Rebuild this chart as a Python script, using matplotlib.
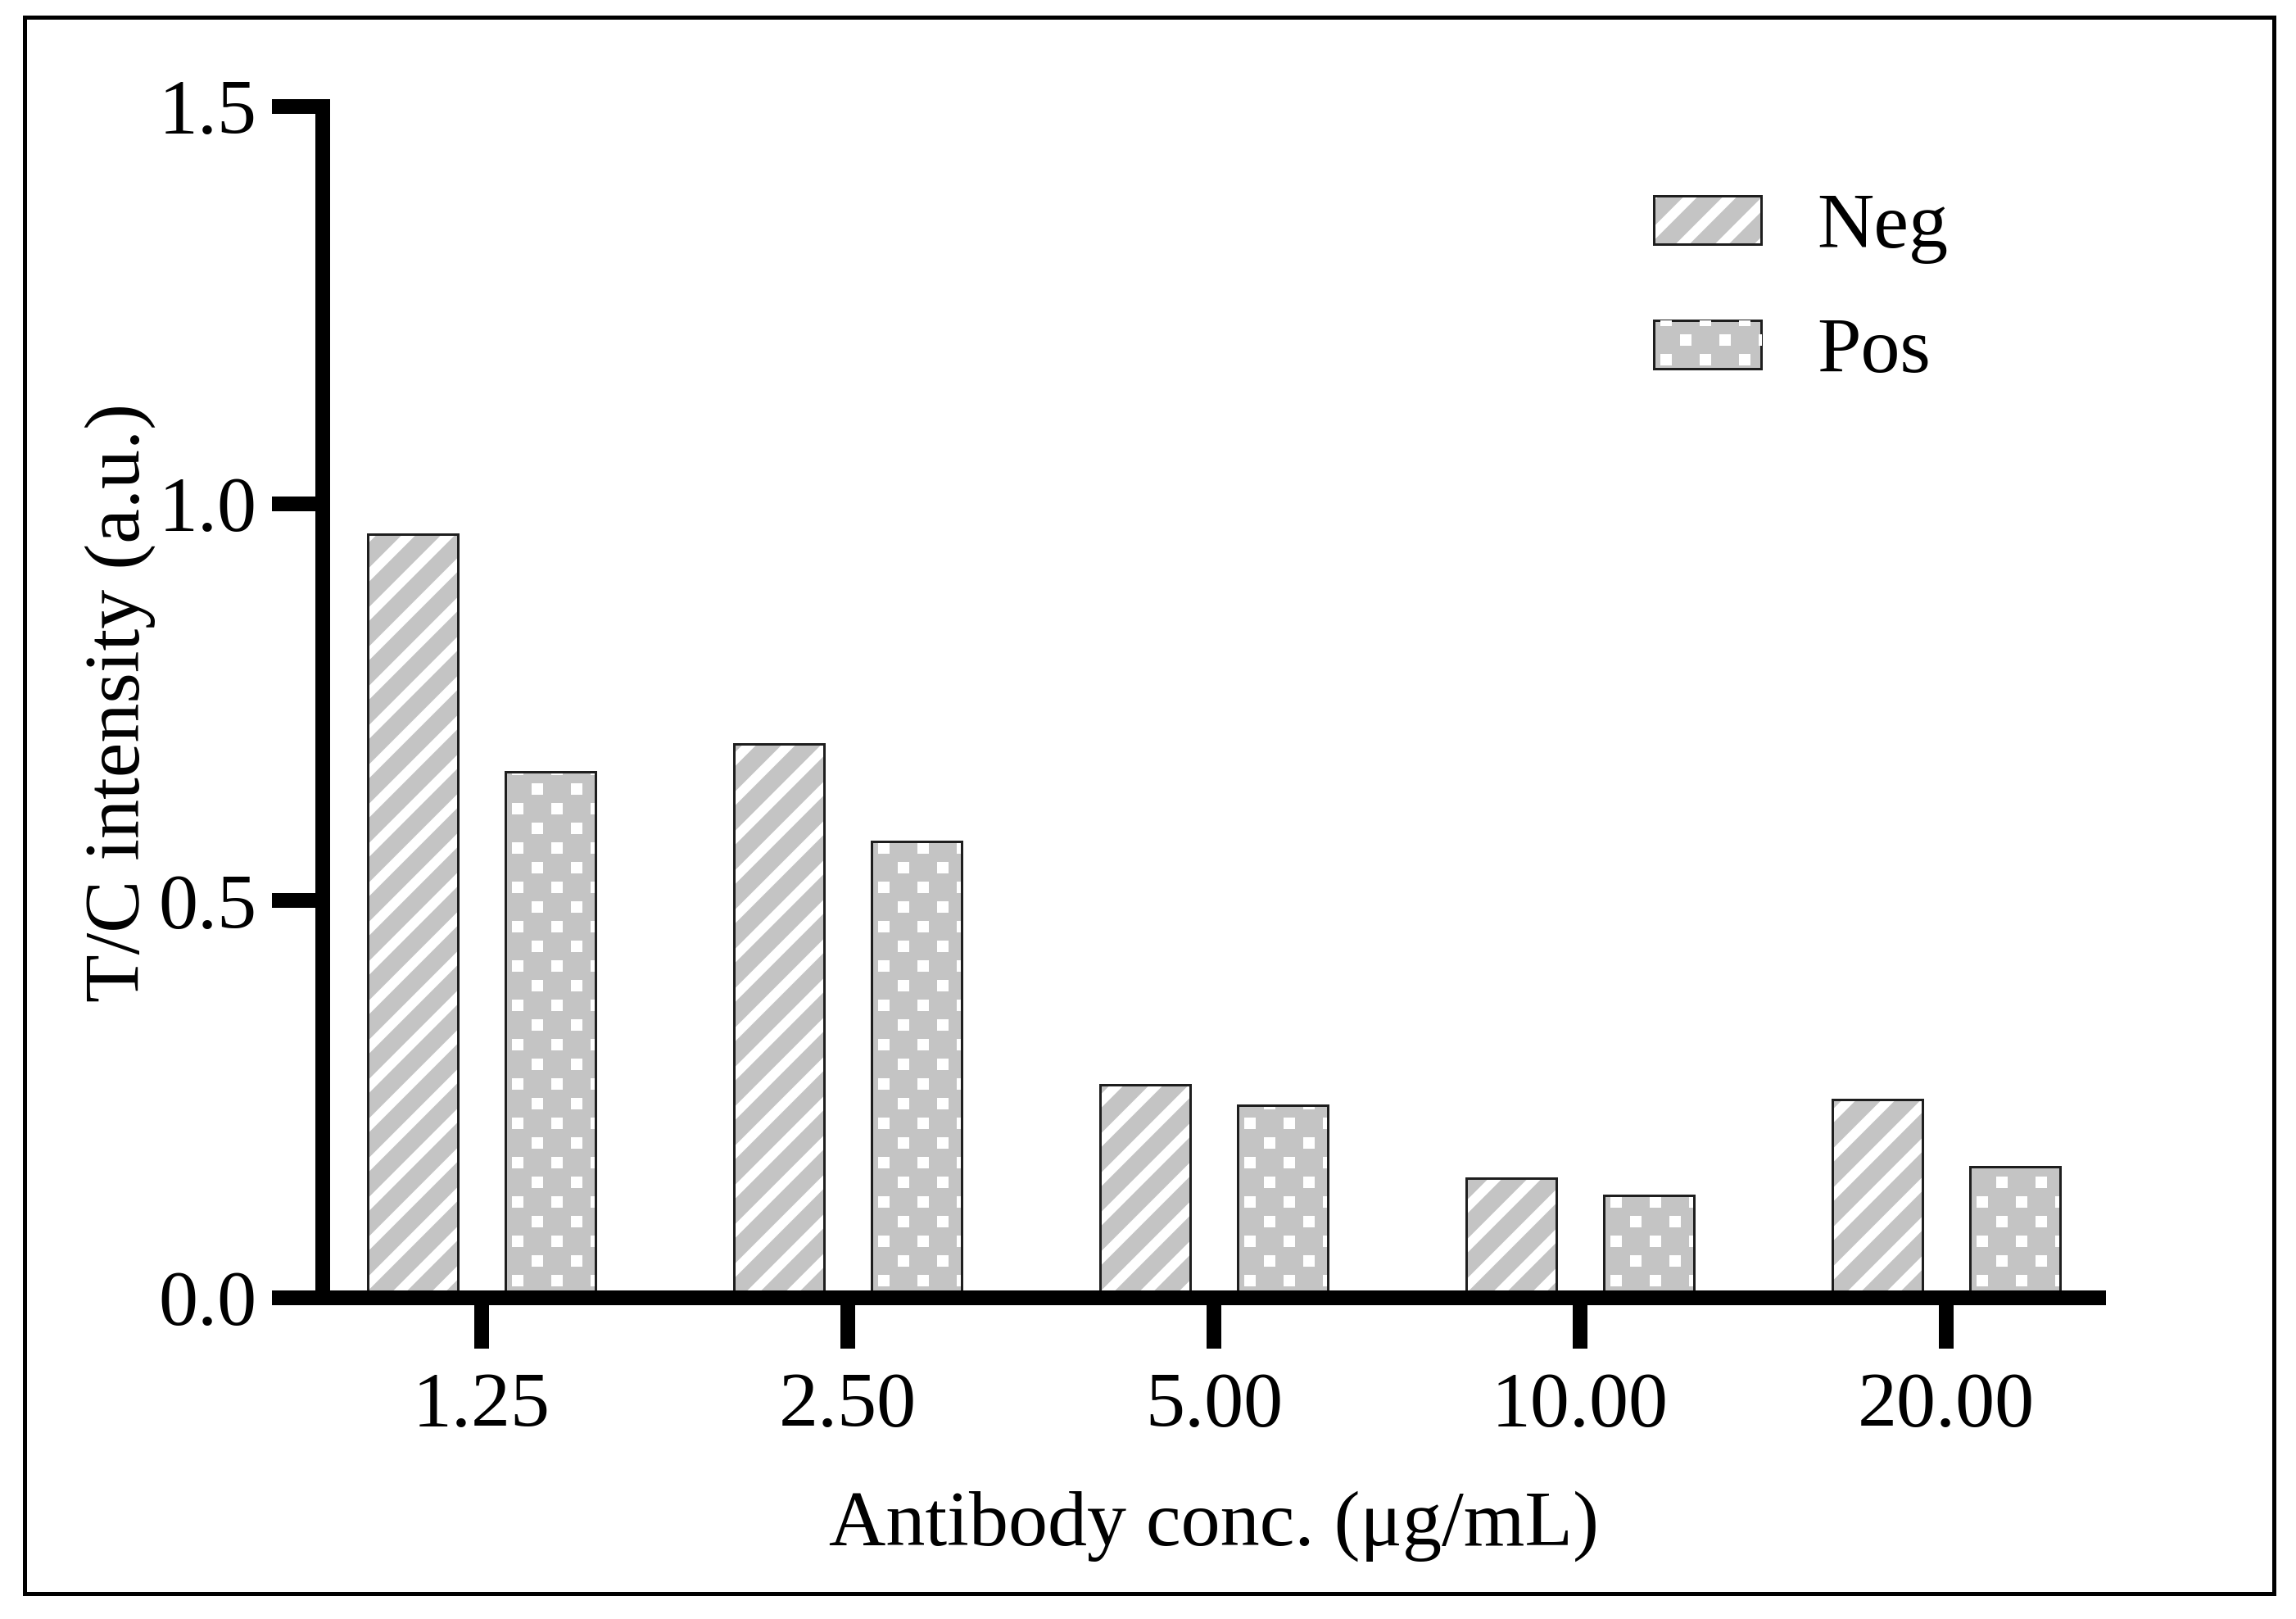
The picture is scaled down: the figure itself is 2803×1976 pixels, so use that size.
import numpy as np
import matplotlib
matplotlib.use('Agg')
import matplotlib.pyplot as plt
from matplotlib.patches import Rectangle, Patch
from matplotlib.legend_handler import HandlerTuple

# ---------------- data ----------------
categories = ['1.25', '2.50', '5.00', '10.00', '20.00']
neg_values = [0.962, 0.697, 0.268, 0.151, 0.250]
pos_values = [0.662, 0.575, 0.242, 0.129, 0.165]
series_names = ['Neg', 'Pos']
y_ticks = [0.0, 0.5, 1.0, 1.5]
y_tick_labels = ['0.0', '0.5', '1.0', '1.5']
x_label = 'Antibody conc. (μg/mL)'
y_label = 'T/C intensity (a.u.)'

# ---------------- style ----------------
W, H, DPI = 2803, 1976, 288
plt.rcParams['font.family'] = ['Liberation Serif', 'DejaVu Serif']
plt.rcParams['hatch.linewidth'] = 3.0
plt.rcParams['hatch.color'] = 'white'
GRAY = '#c4c4c4'
EDGE = '#1e1e1e'
FS = 24
SPINE_W = 4.5

fig = plt.figure(figsize=(W / DPI, H / DPI), dpi=DPI)
fig.patch.set_facecolor('white')
ax = fig.add_axes([332 / W, (H - 1584) / H, (2571 - 332) / W, (1584 - 130) / H])

x = np.arange(len(categories))
bw = 0.248
off = 0.188

neg_fill = ax.bar(x - off, neg_values, bw, color=GRAY, edgecolor='white',
                  linewidth=0, hatch='//', zorder=2)
ax.bar(x - off, neg_values, bw, fill=False, edgecolor=EDGE, linewidth=0.75, zorder=3)
pos_fill = ax.bar(x + off, pos_values, bw, color=GRAY, linewidth=0, zorder=2)
ax.bar(x + off, pos_values, bw, fill=False, edgecolor=EDGE, linewidth=0.75, zorder=3)

ax.set_xlim(-0.5727, 4.4362)
ax.set_ylim(0, 1.5)
ax.set_xticks(x)
ax.set_xticklabels(categories)
ax.set_yticks(y_ticks)
ax.set_yticklabels(y_tick_labels)

for s in ['top', 'right']:
    ax.spines[s].set_visible(False)
ax.spines['left'].set_position(('data', -0.434))
for s in ['left', 'bottom']:
    ax.spines[s].set_linewidth(SPINE_W)
    ax.spines[s].set_zorder(4)
ax.spines['left'].set_capstyle('projecting')
ax.spines['bottom'].set_capstyle('butt')

ax.tick_params(axis='both', direction='out', length=15.5, width=SPINE_W,
               labelsize=FS, color='black')
ax.tick_params(axis='y', pad=4.5)
ax.tick_params(axis='x', pad=7)

ax.set_xlabel(x_label, fontsize=FS)
ax.xaxis.label.set_verticalalignment('baseline')
ax.xaxis.set_label_coords(0.5136, (1584 - 1886) / 1454)
ax.set_ylabel(y_label, fontsize=FS)
ax.yaxis.label.set_verticalalignment('baseline')
ax.yaxis.set_label_coords((170 - 332) / 2239, 0.5)

# legend
h_neg = (Patch(facecolor=GRAY, edgecolor='white', linewidth=0, hatch='//'),
         Patch(fill=False, edgecolor=EDGE, linewidth=0.75))
h_pos = (Patch(facecolor=GRAY, edgecolor='none', linewidth=0),
         Patch(fill=False, edgecolor=EDGE, linewidth=0.75))
leg = ax.legend([h_neg, h_pos], series_names,
                handler_map={tuple: HandlerTuple(ndivide=1, pad=0)},
                loc='upper left', bbox_to_anchor=(2019 / W, (H - 236) / H),
                bbox_transform=fig.transFigure, frameon=False, fontsize=FS,
                handlelength=1.36, handleheight=0.56, handletextpad=0.72,
                labelspacing=0.68, borderpad=0, borderaxespad=0)

# outer frame
fig.add_artist(Rectangle((30 / W, (H - 1945) / H), 2746 / W, 1924 / H,
                         transform=fig.transFigure, fill=False,
                         edgecolor='black', linewidth=1.25))

fig.canvas.draw()

# dotted texture (white squares) for the "Pos" pattern
SP, ROW, SQ = 48, 24, 14


def add_dots(x0, x1, y0, y1, clip, z):
    pts = []
    j = 0
    yy = y0 + 21
    while yy < y1 + SQ:
        start = x0 + (15 if j % 2 == 0 else 39)
        xx = start
        while xx < x1 + SQ:
            pts.append((xx, yy))
            xx += SP
        yy += ROW
        j += 1
    if not pts:
        return
    d = ax.transData.inverted().transform(np.array(pts))
    sc = ax.scatter(d[:, 0], d[:, 1], s=(SQ * 72 / DPI) ** 2, marker='s',
                    c='white', linewidths=0, zorder=z)
    sc.set_clip_path(clip)


for rect in pos_fill.patches:
    bb = rect.get_window_extent()
    add_dots(bb.x0, bb.x1, bb.y0, bb.y1, rect, 2.5)

renderer = fig.canvas.get_renderer()
hp = leg.legend_handles[1]
bb = hp.get_window_extent(renderer)
add_dots(bb.x0, bb.x1, bb.y0 - 10, bb.y1, hp, 6)

ax.set_xlim(-0.5727, 4.4362)
ax.set_ylim(0, 1.5)

fig.savefig('out.png', dpi=DPI)
